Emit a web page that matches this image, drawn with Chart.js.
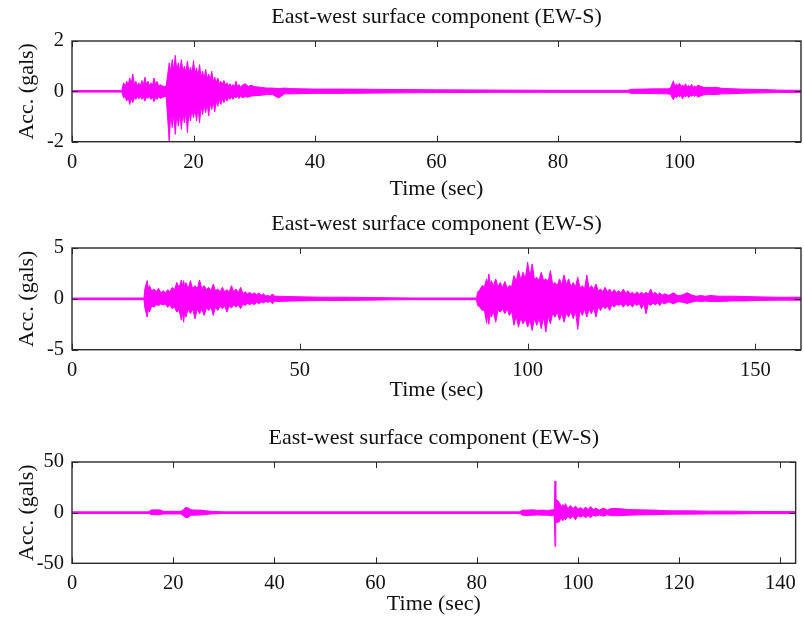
<!DOCTYPE html>
<html><head><meta charset="utf-8">
<script src="https://cdn.jsdelivr.net/npm/chart.js@4.4.1/dist/chart.umd.min.js"></script>
<style>
html,body{margin:0;padding:0;background:#fff;}
#wrap{position:relative;width:804px;height:623px;overflow:hidden;background:#fff;}
canvas{position:absolute;left:0;}
</style></head><body>
<div id="wrap">
<canvas id="c1" width="804" height="207" style="top:0px"></canvas>
<canvas id="c2" width="804" height="214" style="top:207px"></canvas>
<canvas id="c3" width="804" height="202" style="top:421px"></canvas>
</div>
<script>
// ---- Panel 1 (gals): peak samples (time, upper peak, lower peak) ----
const p1Time = [0, 8.2, 8.5, 9, 9.5, 10, 10.5, 11, 11.5, 12, 12.5, 13, 13.5, 14, 14.5, 15, 15.5, 16, 16.5, 17, 17.5, 18, 18.5, 19, 19.5, 20, 20.5, 21, 21.5, 22, 22.5, 23, 23.5, 24, 24.5, 25, 25.5, 26, 26.5, 27, 27.5, 28, 28.5, 29, 29.5, 30, 31, 32, 33, 34, 35, 36, 38, 40, 45, 50, 55, 60, 70, 80, 91.5, 92, 94, 96, 98, 98.5, 99, 99.5, 100, 100.5, 101, 101.5, 102, 102.5, 103, 103.5, 104, 105, 106, 107, 108, 110, 112, 114, 116, 120];
const p1Up = [0.03, 0.03, 0.34, 0.40, 0.53, 0.69, 0.40, 0.34, 0.43, 0.56, 0.40, 0.34, 0.53, 0.40, 0.27, 0.20, 0.20, 1.13, 1.26, 1.43, 1.13, 1.26, 1.0, 1.2, 0.96, 1.22, 0.93, 1.06, 0.80, 0.87, 0.69, 0.80, 0.56, 0.53, 0.40, 0.43, 0.34, 0.30, 0.27, 0.40, 0.27, 0.24, 0.30, 0.20, 0.24, 0.19, 0.16, 0.13, 0.13, 0.11, 0.13, 0.11, 0.10, 0.09, 0.09, 0.08, 0.07, 0.06, 0.05, 0.04, 0.04, 0.08, 0.09, 0.10, 0.10, 0.12, 0.42, 0.30, 0.33, 0.26, 0.30, 0.24, 0.28, 0.22, 0.25, 0.20, 0.16, 0.15, 0.16, 0.12, 0.11, 0.09, 0.08, 0.07, 0.05, 0.04];
const p1Low = [-0.03, -0.03, -0.26, -0.39, -0.52, -0.45, -0.32, -0.30, -0.32, -0.39, -0.28, -0.32, -0.41, -0.32, -0.28, -0.23, -0.19, -1.97, -1.44, -1.71, -1.38, -1.51, -1.25, -1.64, -1.18, -1.05, -1.18, -1.25, -0.92, -0.85, -0.98, -0.72, -0.81, -0.59, -0.52, -0.45, -0.39, -0.32, -0.32, -0.26, -0.28, -0.26, -0.21, -0.23, -0.19, -0.17, -0.16, -0.13, -0.13, -0.26, -0.10, -0.10, -0.09, -0.08, -0.08, -0.07, -0.06, -0.05, -0.04, -0.04, -0.04, -0.08, -0.08, -0.09, -0.10, -0.12, -0.34, -0.25, -0.22, -0.30, -0.22, -0.25, -0.20, -0.20, -0.23, -0.18, -0.14, -0.12, -0.13, -0.10, -0.10, -0.08, -0.07, -0.06, -0.05, -0.04];
// body (between-peak) level samples
const p1BodyTime = [8.75, 9.25, 9.75, 10.25, 10.75, 11.25, 11.75, 12.25, 12.75, 13.25, 13.75, 14.25, 16.25, 16.75, 17.25, 17.75, 18.25, 18.75, 19.25, 19.75, 20.25, 20.75, 21.25, 21.75, 22.25, 22.75, 23.25, 23.75, 24.25, 24.75, 25.25, 25.75, 26.25, 26.75, 27.25, 27.75, 99.25, 99.75, 100.25, 100.75, 101.25, 101.75, 102.25, 102.75];
const p1BodyUp = [0.2, 0.25, 0.3, 0.3, 0.22, 0.2, 0.25, 0.28, 0.22, 0.25, 0.28, 0.2, 0.8, 0.85, 0.85, 0.8, 0.8, 0.75, 0.75, 0.7, 0.7, 0.6, 0.55, 0.5, 0.5, 0.45, 0.4, 0.35, 0.3, 0.28, 0.25, 0.22, 0.2, 0.18, 0.18, 0.16, 0.18, 0.2, 0.18, 0.17, 0.17, 0.16, 0.15, 0.15];
const p1BodyLow = [-0.2, -0.25, -0.28, -0.25, -0.2, -0.2, -0.22, -0.22, -0.2, -0.22, -0.24, -0.2, -0.9, -0.9, -0.9, -0.85, -0.85, -0.8, -0.8, -0.75, -0.7, -0.65, -0.6, -0.55, -0.5, -0.45, -0.42, -0.38, -0.32, -0.3, -0.26, -0.24, -0.22, -0.2, -0.18, -0.17, -0.18, -0.16, -0.16, -0.17, -0.15, -0.15, -0.14, -0.14];
const p1XTicks = [0, 20, 40, 60, 80, 100];
const p1YTicks = [-2, 0, 2];

// ---- Panel 2 ----
const p2Time = [0, 15.8, 16, 16.5, 17, 18, 19, 20, 21, 22, 23, 24, 24.5, 25, 26, 27, 28, 29, 30, 31, 32, 33, 34, 35, 36, 37, 38, 39, 40, 41, 42, 43, 44, 45, 47, 50, 55, 60, 65, 70, 75, 88.8, 89, 90, 91, 91.5, 92, 93, 94, 95, 96, 97, 98, 99, 100, 101, 102, 103, 104, 105, 106, 107, 108, 109, 110, 111, 112, 113, 114, 115, 116, 117, 118, 119, 120, 121, 122, 123, 124, 125, 126, 127, 128, 129, 130, 132, 134, 135, 136, 138, 140, 142, 145, 148, 150, 155, 160];
const p2Up = [0.08, 0.08, 1.0, 1.8, 1.3, 0.97, 1.04, 0.8, 0.9, 1.13, 1.62, 1.86, 1.79, 1.6, 1.79, 1.3, 1.86, 1.3, 1.13, 1.46, 0.97, 1.13, 0.9, 1.3, 0.97, 1.13, 0.7, 0.65, 0.59, 0.59, 0.49, 0.33, 0.49, 0.26, 0.23, 0.2, 0.16, 0.16, 0.13, 0.1, 0.08, 0.08, 0.65, 1.3, 1.96, 2.45, 1.79, 1.96, 1.6, 1.7, 1.3, 2.29, 2.78, 2.61, 3.6, 3.43, 2.12, 2.61, 1.96, 2.78, 1.6, 1.96, 2.35, 1.96, 1.6, 2.12, 1.3, 2.35, 1.3, 1.46, 0.97, 1.13, 0.97, 0.9, 0.8, 0.97, 0.8, 0.65, 0.7, 0.65, 0.65, 0.97, 0.65, 0.59, 0.49, 0.59, 0.39, 0.59, 0.39, 0.33, 0.33, 0.26, 0.26, 0.23, 0.2, 0.16, 0.16];
const p2Low = [-0.08, -0.08, -0.9, -1.8, -1.3, -0.82, -0.65, -0.6, -0.82, -0.98, -1.3, -2.1, -2.3, -1.8, -1.47, -1.96, -1.47, -1.63, -1.14, -1.63, -1.14, -0.98, -1.3, -0.91, -0.82, -0.98, -0.65, -0.59, -0.59, -0.49, -0.39, -0.33, -0.49, -0.26, -0.23, -0.2, -0.16, -0.15, -0.13, -0.1, -0.08, -0.08, -0.65, -1.14, -2.4, -2.5, -1.8, -2.3, -1.3, -1.47, -1.63, -2.6, -2.78, -2.45, -2.78, -3.11, -2.61, -2.94, -3.27, -2.45, -1.8, -2.1, -2.3, -1.8, -1.96, -3.0, -1.63, -1.8, -1.47, -1.8, -1.14, -0.98, -1.14, -0.82, -0.65, -0.82, -0.72, -0.82, -0.65, -0.98, -1.47, -0.65, -0.59, -0.65, -0.49, -0.49, -0.33, -0.45, -0.33, -0.26, -0.26, -0.26, -0.2, -0.2, -0.16, -0.13, -0.13];
const p2BodyTime = [16.75, 17.5, 18.5, 19.5, 20.5, 21.5, 22.5, 23.5, 24.25, 24.75, 25.5, 26.5, 27.5, 28.5, 29.5, 30.5, 31.5, 32.5, 33.5, 34.5, 35.5, 36.5, 37.5, 38.5, 39.5, 40.5, 41.5, 42.5, 43.5, 44.5, 89.5, 90.5, 91.25, 91.75, 92.5, 93.5, 94.5, 95.5, 96.5, 97.5, 98.5, 99.5, 100.5, 101.5, 102.5, 103.5, 104.5, 105.5, 106.5, 107.5, 108.5, 109.5, 110.5, 111.5, 112.5, 113.5, 114.5, 115.5, 116.5, 117.5, 118.5, 119.5, 120.5, 121.5, 122.5, 123.5, 124.5, 125.5, 126.5, 127.5, 128.5, 129.5, 131, 133, 137, 139];
const p2BodyUp = [1.0, 0.8, 0.7, 0.6, 0.6, 0.7, 0.9, 1.1, 1.2, 1.1, 1.0, 1.0, 1.0, 1.0, 0.9, 0.8, 0.8, 0.7, 0.7, 0.7, 0.7, 0.6, 0.5, 0.5, 0.45, 0.4, 0.35, 0.3, 0.25, 0.25, 0.9, 1.2, 1.5, 1.3, 1.3, 1.2, 1.1, 1.1, 1.2, 1.7, 1.9, 2.0, 2.2, 1.9, 1.8, 1.8, 1.7, 1.4, 1.3, 1.4, 1.4, 1.2, 1.2, 1.1, 1.0, 1.0, 0.9, 0.8, 0.7, 0.7, 0.6, 0.6, 0.55, 0.55, 0.5, 0.45, 0.45, 0.45, 0.45, 0.45, 0.4, 0.35, 0.35, 0.3, 0.25, 0.25];
const p2BodyLow = [-1.0, -0.7, -0.6, -0.5, -0.5, -0.6, -0.8, -1.1, -1.3, -1.2, -1.0, -1.0, -1.0, -1.0, -0.9, -0.8, -0.8, -0.7, -0.7, -0.7, -0.6, -0.6, -0.5, -0.45, -0.4, -0.35, -0.3, -0.28, -0.25, -0.22, -0.8, -1.1, -1.5, -1.3, -1.3, -1.1, -1.0, -1.0, -1.2, -1.7, -1.9, -2.0, -2.1, -1.9, -1.9, -1.8, -1.7, -1.4, -1.3, -1.4, -1.4, -1.2, -1.2, -1.1, -1.0, -1.0, -0.9, -0.8, -0.7, -0.7, -0.6, -0.55, -0.5, -0.5, -0.5, -0.45, -0.45, -0.45, -0.45, -0.4, -0.4, -0.35, -0.3, -0.28, -0.22, -0.22];
const p2XTicks = [0, 50, 100, 150];
const p2YTicks = [-5, 0, 5];

// ---- Panel 3 ----
const p3Time = [0, 15.3, 15.5, 16.5, 17.5, 18, 21.5, 22, 22.5, 23, 23.5, 24.5, 25.5, 26.5, 27.5, 30, 88.5, 89, 90, 91, 92, 93, 94, 95, 95.3, 95.45, 95.6, 96.3, 97, 97.5, 98.5, 99.5, 100.5, 101.5, 102.5, 103.5, 105, 106.5, 108, 110, 112, 115, 118, 122, 126, 130, 135, 143];
const p3Up = [0.8, 0.8, 2.5, 2.8, 2.5, 1.3, 1.3, 3, 5.2, 4.5, 2.8, 2.5, 2.5, 1.8, 1.3, 0.8, 0.8, 2.5, 2.5, 2.8, 2.3, 2.5, 2.2, 2.8, 3, 31.3, 14, 10, 8, 9, 7, 6.5, 5, 5.5, 6, 4.5, 4.5, 4, 4, 3, 2.8, 2.5, 1.8, 1.8, 1.5, 1.5, 1.2, 1.0];
const p3Low = [-0.8, -0.8, -2, -2, -2, -1.3, -1.3, -3, -5, -4.5, -2.5, -2.5, -2.2, -1.8, -1.3, -0.8, -0.8, -2.5, -2.8, -2.5, -2.3, -2.5, -2.5, -3, -3, -33.3, -10, -9, -8, -7, -6, -7, -4.5, -5, -5, -3.5, -3.5, -3, -3, -2.5, -2.2, -2, -1.6, -1.5, -1.3, -1.3, -1.0, -0.9];
const p3BodyTime = [96.65, 97.25, 98, 99, 100, 101, 102, 103, 104.2, 105.8];
const p3BodyUp = [6, 5, 4, 4, 3.5, 3, 3, 3, 2.5, 2.5];
const p3BodyLow = [-5, -5, -4, -3.5, -3, -3, -3, -2.5, -2.2, -2];
const p3XTicks = [0, 20, 40, 60, 80, 100, 120, 140];
const p3YTicks = [-50, 0, 50];

const titleText = 'East-west surface component (EW-S)';
const xTitleText = 'Time (sec)';
const yTitleText = 'Acc. (gals)';

const MAGENTA = '#ff00ff';
const INK = '#111111';
const FAMILY = "'Liberation Serif', 'Times New Roman', serif";

const framePlugin = {
  id: 'frame',
  afterDatasetsDraw(chart) {
    const {ctx, chartArea: a, scales} = chart;
    ctx.save();
    ctx.strokeStyle = '#2a2a2a';
    ctx.lineWidth = 1;
    const tl = 6;
    ctx.beginPath();
    scales.x.ticks.forEach(t => {
      const px = Math.round(scales.x.getPixelForValue(t.value)) + 0.5;
      ctx.moveTo(px, a.top); ctx.lineTo(px, a.top + tl);
      ctx.moveTo(px, a.bottom); ctx.lineTo(px, a.bottom - tl);
    });
    scales.y.ticks.forEach(t => {
      const py = Math.round(scales.y.getPixelForValue(t.value)) + 0.5;
      ctx.moveTo(a.left, py); ctx.lineTo(a.left + tl, py);
      ctx.moveTo(a.right, py); ctx.lineTo(a.right - tl, py);
    });
    ctx.stroke();
    ctx.lineWidth = 1.4;
    ctx.strokeRect(a.left, a.top, a.right - a.left, a.bottom - a.top);
    ctx.restore();
  }
};

// merge peak samples and body samples into one time-ordered table
function mergeSamples(tA, uA, lA, tB, uB, lB) {
  const rows = tA.map((t, i) => ({t, u: uA[i], l: lA[i]}))
    .concat(tB.map((t, i) => ({t, u: uB[i], l: lB[i]})));
  rows.sort((a, b) => a.t - b.t);
  return rows;
}

function makeChart(id, rows, xMax, xTicks, yMax, yTicks, xSpace, padBottom, tickPad) {
  const upper = rows.map(r => ({x: r.t, y: r.u}));
  const lower = rows.map(r => ({x: r.t, y: r.l}));
  return new Chart(document.getElementById(id), {
    type: 'line',
    data: {
      datasets: [
        {data: upper, borderColor: MAGENTA, backgroundColor: MAGENTA, borderWidth: 1, pointRadius: 0, fill: '+1', tension: 0, borderJoinStyle: 'bevel'},
        {data: lower, borderColor: MAGENTA, backgroundColor: MAGENTA, borderWidth: 1, pointRadius: 0, fill: false, tension: 0, borderJoinStyle: 'bevel'}
      ]
    },
    options: {
      responsive: false,
      animation: false,
      events: [],
      layout: {padding: {left: 0, right: 3, top: 0, bottom: padBottom}},
      plugins: {
        legend: {display: false},
        tooltip: {enabled: false},
        title: {
          display: true, text: titleText, fullSize: false, color: INK,
          font: {family: FAMILY, size: 22, weight: 'normal', lineHeight: 1.2},
          padding: {top: 3.8, bottom: 10.8}
        }
      },
      scales: {
        x: {
          type: 'linear', min: 0, max: xMax,
          grid: {display: false, drawTicks: false},
          border: {display: false},
          ticks: {color: INK, font: {family: FAMILY, size: 20.5}, padding: tickPad, maxRotation: 0, autoSkip: false, callback: v => String(v)},
          afterBuildTicks: s => { s.ticks = xTicks.map(v => ({value: v})); },
          afterFit: s => { s.height = xSpace; },
          title: {display: true, text: xTitleText, color: INK, font: {family: FAMILY, size: 22, lineHeight: 1.2}, padding: {top: 0, bottom: 0}}
        },
        y: {
          type: 'linear', min: -yMax, max: yMax,
          grid: {display: false, drawTicks: false},
          border: {display: false},
          ticks: {color: INK, font: {family: FAMILY, size: 20.5}, padding: 8, callback: v => String(v)},
          afterBuildTicks: s => { s.ticks = yTicks.map(v => ({value: v})); },
          afterFit: s => { s.width = 72; },
          title: {display: true, text: yTitleText, color: INK, font: {family: FAMILY, size: 22, lineHeight: 1.2}, padding: {top: 14, bottom: 0}}
        }
      }
    },
    plugins: [framePlugin]
  });
}

makeChart('c1', mergeSamples(p1Time, p1Up, p1Low, p1BodyTime, p1BodyUp, p1BodyLow), 120, p1XTicks, 2, p1YTicks, 60.3, 5, 9);
makeChart('c2', mergeSamples(p2Time, p2Up, p2Low, p2BodyTime, p2BodyUp, p2BodyLow), 160, p2XTicks, 5, p2YTicks, 53.3, 18, 9);
makeChart('c3', mergeSamples(p3Time, p3Up, p3Low, p3BodyTime, p3BodyUp, p3BodyLow), 143, p3XTicks, 50, p3YTicks, 54.3, 5.4, 8);
</script>
</body></html>
